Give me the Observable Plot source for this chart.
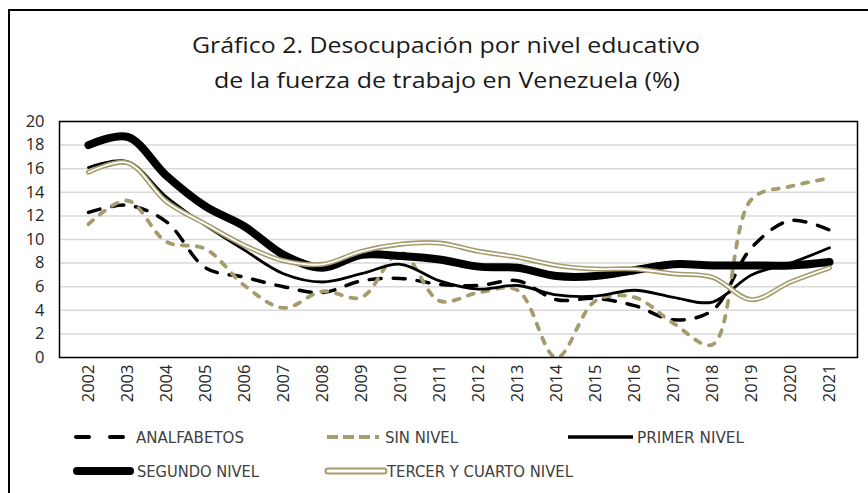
<!DOCTYPE html>
<html>
<head>
<meta charset="utf-8">
<script src="https://cdn.jsdelivr.net/npm/d3@7"></script>
<script src="https://cdn.jsdelivr.net/npm/@observablehq/plot@0.6"></script>
<style>
  html, body { margin: 0; padding: 0; background: #fff; width: 868px; height: 493px; overflow: hidden; position: relative; }
  #border { position: absolute; left: 8px; top: 9px; width: 900px; height: 520px; border-left: 2px solid #000; border-top: 2px solid #000; box-sizing: border-box; }
  #title { position: absolute; left: 0; top: 20px; }
  #chart { position: absolute; left: 0; top: 110px; }
  #legend { position: absolute; left: 0; top: 415px; }
  text { font-family: "Open Sans", sans-serif; }
</style>
</head>
<body>
<div id="border"></div>
<svg id="title" width="868" height="85" xmlns="http://www.w3.org/2000/svg">
  <text x="446" y="33" text-anchor="middle" font-size="22" fill="#1a1a1a" textLength="508" lengthAdjust="spacingAndGlyphs">Gráfico 2. Desocupación por nivel educativo</text>
  <text x="447" y="68" text-anchor="middle" font-size="22" fill="#1a1a1a" textLength="466" lengthAdjust="spacingAndGlyphs">de la fuerza de trabajo en Venezuela (%)</text>
</svg>
<div id="chart"></div>
<svg id="legend" width="868" height="78" xmlns="http://www.w3.org/2000/svg"></svg>
<script>
// ---- data ----
const years = ["2002","2003","2004","2005","2006","2007","2008","2009","2010","2011","2012","2013","2014","2015","2016","2017","2018","2019","2020","2021"];
const analfabetos = [12.3, 12.9, 11.5, 7.6, 6.8, 6.0, 5.5, 6.5, 6.7, 6.2, 6.1, 6.5, 4.9, 5.0, 4.4, 3.2, 4.0, 9.3, 11.6, 10.8];
const sinNivel    = [11.3, 13.3, 9.8, 9.2, 6.1, 4.2, 5.6, 5.1, 8.9, 4.8, 5.5, 5.7, 0.0, 4.8, 5.1, 2.9, 1.1, 13.4, 14.5, 15.2];
const primerNivel = [16.1, 16.6, 13.6, 11.2, 9.1, 7.1, 6.4, 7.1, 7.9, 6.5, 5.8, 6.1, 5.3, 5.2, 5.7, 5.1, 4.7, 7.0, 8.0, 9.3];
const segundoNivel= [18.0, 18.7, 15.4, 12.8, 11.1, 8.7, 7.6, 8.7, 8.6, 8.3, 7.7, 7.6, 6.9, 6.9, 7.4, 7.9, 7.8, 7.8, 7.8, 8.1];
const tercerCuarto= [15.7, 16.5, 13.2, 11.3, 9.5, 8.2, 7.9, 9.0, 9.6, 9.7, 9.0, 8.5, 7.8, 7.5, 7.5, 7.1, 6.8, 4.9, 6.4, 7.6];
const seriesNames = ["ANALFABETOS", "SIN NIVEL", "PRIMER NIVEL", "SEGUNDO NIVEL", "TERCER Y CUARTO NIVEL"];
const yTicks = [0, 2, 4, 6, 8, 10, 12, 14, 16, 18, 20];

const gold = "#a69b6c";
const toRows = arr => years.map((yr, i) => ({year: yr, value: arr[i]}));

const common = {x: "year", y: "value", curve: "catmull-rom"};

const chart = Plot.plot({
  width: 868,
  height: 302,
  marginLeft: 59,
  marginRight: 11,
  marginTop: 11,
  marginBottom: 55,
  style: {fontFamily: "'Open Sans', sans-serif", fontSize: "16.5px", color: "#262626", background: "transparent"},
  x: {type: "point", domain: years, padding: 0.5, label: null},
  y: {domain: [0, 20], label: null},
  marks: [
    Plot.gridY(yTicks, {stroke: "#d9d9d9", strokeOpacity: 1, strokeWidth: 1.5}),
    Plot.line(toRows(analfabetos), {...common, stroke: "#000", strokeWidth: 3.5, strokeDasharray: "12,12", strokeLinecap: "round"}),
    Plot.line(toRows(sinNivel), {...common, stroke: gold, strokeWidth: 3.8, strokeDasharray: "6,9", strokeLinecap: "round"}),
    Plot.line(toRows(primerNivel), {...common, stroke: "#000", strokeWidth: 2.8}),
    Plot.line(toRows(segundoNivel), {...common, stroke: "#000", strokeWidth: 8, strokeLinecap: "round"}),
    Plot.line(toRows(tercerCuarto), {...common, stroke: gold, strokeWidth: 5, strokeLinecap: "round"}),
    Plot.line(toRows(tercerCuarto), {...common, stroke: "#fff", strokeWidth: 1.8, strokeLinecap: "round"}),
    Plot.frame({stroke: "#000", strokeWidth: 1.5}),
    Plot.axisY(yTicks, {tickSize: 0, tickPadding: 15, label: null, fill: "#262626"}),
    Plot.axisX({tickSize: 0, tickPadding: 7, tickRotate: -90, label: null, fill: "#262626"})
  ]
});
document.getElementById("chart").appendChild(chart);

// ---- legend ----
const lg = d3.select("#legend");
const rowY = [22, 56];
const items = [
  {name: seriesNames[0], row: 0, x0: 76, x1: 128, tx: 136, tw: 108},
  {name: seriesNames[1], row: 0, x0: 327, x1: 379, tx: 385, tw: 73},
  {name: seriesNames[2], row: 0, x0: 568, x1: 633, tx: 637, tw: 107},
  {name: seriesNames[3], row: 1, x0: 77, x1: 130, tx: 137, tw: 122},
  {name: seriesNames[4], row: 1, x0: 328, x1: 384, tx: 387, tw: 186}
];
const styles = [
  [{stroke: "#000", w: 4, dash: "13,21", cap: "round"}],
  [{stroke: gold, w: 4, dash: "11,5", cap: "butt"}],
  [{stroke: "#000", w: 3.5, dash: null, cap: "butt"}],
  [{stroke: "#000", w: 8, dash: null, cap: "round"}],
  [{stroke: gold, w: 7, dash: null, cap: "round"}, {stroke: "#fff", w: 3, dash: null, cap: "round"}]
];
items.forEach((it, i) => {
  const y = rowY[it.row];
  styles[i].forEach(s => {
    lg.append("line").attr("x1", it.x0).attr("x2", it.x1).attr("y1", y).attr("y2", y)
      .attr("stroke", s.stroke).attr("stroke-width", s.w).attr("stroke-linecap", s.cap)
      .attr("stroke-dasharray", s.dash);
  });
  lg.append("text").attr("x", it.tx).attr("y", y + 5.5)
    .attr("font-size", 15.5).attr("fill", "#404040")
    .style("font-family", "'DejaVu Sans Condensed', 'Liberation Sans Narrow', Roboto, sans-serif")
    .attr("textLength", it.tw).attr("lengthAdjust", "spacingAndGlyphs")
    .text(it.name);
});
</script>
</body>
</html>
